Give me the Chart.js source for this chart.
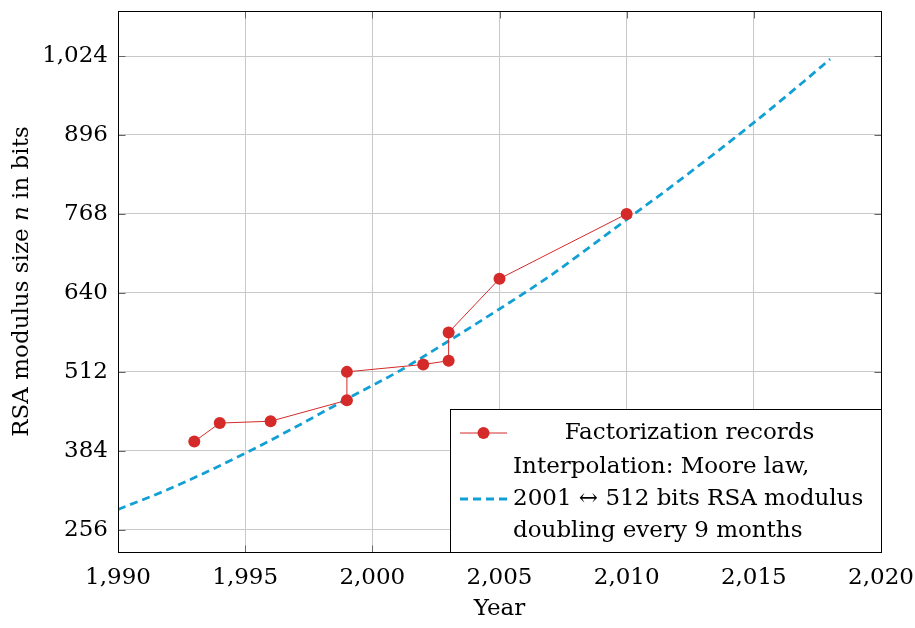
<!DOCTYPE html>
<html><head><meta charset="utf-8">
<script src="https://cdn.jsdelivr.net/npm/chart.js@4"></script>
<style>html,body{margin:0;padding:0;background:#fff}#wrap{width:915px;height:628px}</style>
</head><body><div id="wrap"><canvas id="c" width="915" height="628"></canvas></div>
<script>
// ---- data ----
const recordYears = [1993, 1994, 1996, 1999, 1999, 2002, 2003, 2003, 2005, 2010];
const recordBits  = [399, 429, 432, 466, 512, 524, 530, 576, 663, 768];
const mooreYears  = [1990, 1992, 1995, 1997, 1999, 2000, 2001, 2003, 2005, 2007, 2010, 2012, 2015, 2017, 2018];
const mooreBits   = [289, 322, 380, 423, 468, 490, 512, 562, 614, 668, 759, 820, 916, 984, 1019];
const xTicks = [1990, 1995, 2000, 2005, 2010, 2015, 2020];
const yTicks = [256, 384, 512, 640, 768, 896, 1024];
const seriesNames = ['Factorization records', ['Interpolation: Moore law,', '2001 \u2194 512 bits RSA modulus', 'doubling every 9 months']];
const xTitle = 'Year';
const yTitleParts = [['RSA modulus size ', false], ['n', true], [' in bits', false]];

const FONT = '"DejaVu Serif", serif';
const FS = 23;
const RED = '#d42a2a';
const BLUE = '#12a0d4';

const decor = {
  id: 'decor',
  afterDraw(chart) {
    const ctx = chart.ctx, a = chart.chartArea;
    const L = Math.round(a.left) + 0.5, R = Math.round(a.right) + 0.5;
    const T = Math.round(a.top) + 0.5, B = Math.round(a.bottom) + 0.5;
    ctx.save();
    // inner ticks
    ctx.strokeStyle = '#666'; ctx.lineWidth = 1;
    const xs = chart.scales.x, ys = chart.scales.y, tl = 7;
    ctx.beginPath();
    xTicks.forEach(v => { const px = Math.round(xs.getPixelForValue(v)) + 0.5;
      ctx.moveTo(px, B); ctx.lineTo(px, B - tl); ctx.moveTo(px, T); ctx.lineTo(px, T + tl); });
    yTicks.forEach(v => { const py = Math.round(ys.getPixelForValue(v)) + 0.5;
      ctx.moveTo(L, py); ctx.lineTo(L + tl, py); ctx.moveTo(R, py); ctx.lineTo(R - tl, py); });
    ctx.stroke();
    // frame
    ctx.strokeStyle = '#000'; ctx.lineWidth = 1;
    ctx.strokeRect(L, T, R - L, B - T);
    // legend
    const lx = 450.5, ly = 409.5, lw = R - lx, lh = B - ly;
    ctx.fillStyle = '#fff'; ctx.fillRect(lx, ly, lw, lh);
    ctx.strokeStyle = '#000'; ctx.strokeRect(lx, ly, lw, lh);
    ctx.font = FS + 'px ' + FONT; ctx.fillStyle = '#000'; ctx.textBaseline = 'middle';
    // entry 1
    const y1 = 433;
    ctx.strokeStyle = RED; ctx.lineWidth = 1;
    ctx.beginPath(); ctx.moveTo(460, y1); ctx.lineTo(507, y1); ctx.stroke();
    ctx.fillStyle = RED; ctx.beginPath(); ctx.arc(483.5, y1, 6, 0, Math.PI * 2); ctx.fill();
    ctx.fillStyle = '#000'; ctx.textAlign = 'center';
    ctx.fillText(seriesNames[0], 689.5, y1);
    // entry 2
    const rows = [467, 499, 531];
    ctx.strokeStyle = BLUE; ctx.lineWidth = 2.8; ctx.setLineDash([8, 5]);
    ctx.beginPath(); ctx.moveTo(460, 499); ctx.lineTo(507, 499); ctx.stroke();
    ctx.setLineDash([]);
    ctx.textAlign = 'left';
    seriesNames[1].forEach((t, i) => ctx.fillText(t, 513, rows[i]));
    // x title
    ctx.textAlign = 'center';
    ctx.fillText(xTitle, (a.left + a.right) / 2, 609);
    // y title
    ctx.translate(22, (a.top + a.bottom) / 2);
    ctx.rotate(-Math.PI / 2);
    let total = 0;
    yTitleParts.forEach(([t, it]) => { ctx.font = (it ? 'italic ' : '') + FS + 'px ' + FONT; total += ctx.measureText(t).width; });
    let x = -total / 2;
    ctx.textAlign = 'left';
    yTitleParts.forEach(([t, it]) => { ctx.font = (it ? 'italic ' : '') + FS + 'px ' + FONT; ctx.fillText(t, x, 0); x += ctx.measureText(t).width; });
    ctx.restore();
  }
};

new Chart(document.getElementById('c'), {
  type: 'scatter',
  data: {
    datasets: [
      { label: seriesNames[0], data: recordYears.map((y, i) => ({ x: y, y: recordBits[i] })),
        showLine: true, borderColor: RED, backgroundColor: RED, borderWidth: 1,
        pointRadius: 6, pointBorderWidth: 0, pointBackgroundColor: RED, order: 0 },
      { label: seriesNames[1].join(' '), data: mooreYears.map((y, i) => ({ x: y, y: mooreBits[i] })),
        showLine: true, borderColor: BLUE, borderWidth: 2.8, borderDash: [8, 5],
        pointRadius: 0, cubicInterpolationMode: 'monotone', order: 1 }
    ]
  },
  options: {
    responsive: false, animation: false,
    layout: { padding: { left: 0, right: 34, top: 11, bottom: 0 } },
    plugins: { legend: { display: false }, tooltip: { enabled: false } },
    scales: {
      x: { type: 'linear', min: 1990, max: 2020,
        afterBuildTicks: s => { s.ticks = xTicks.map(v => ({ value: v })); },
        afterFit: s => { s.height = 76; s.paddingLeft = 0; s.paddingRight = 0; },
        grid: { color: '#c8c8c8', lineWidth: 1, drawTicks: false },
        border: { display: false },
        ticks: { color: '#000', font: { family: FONT, size: FS }, padding: 12, maxRotation: 0,
          callback: v => v.toLocaleString('en-US') } },
      y: { type: 'linear', min: 220, max: 1097,
        afterBuildTicks: s => { s.ticks = yTicks.map(v => ({ value: v })); },
        afterFit: s => { s.width = 118; s.paddingTop = 0; s.paddingBottom = 0; },
        grid: { color: '#c8c8c8', lineWidth: 1, drawTicks: false },
        border: { display: false },
        ticks: { color: '#000', font: { family: FONT, size: FS }, padding: 10,
          callback: v => v.toLocaleString('en-US') } }
    }
  },
  plugins: [decor]
});
</script></body></html>
